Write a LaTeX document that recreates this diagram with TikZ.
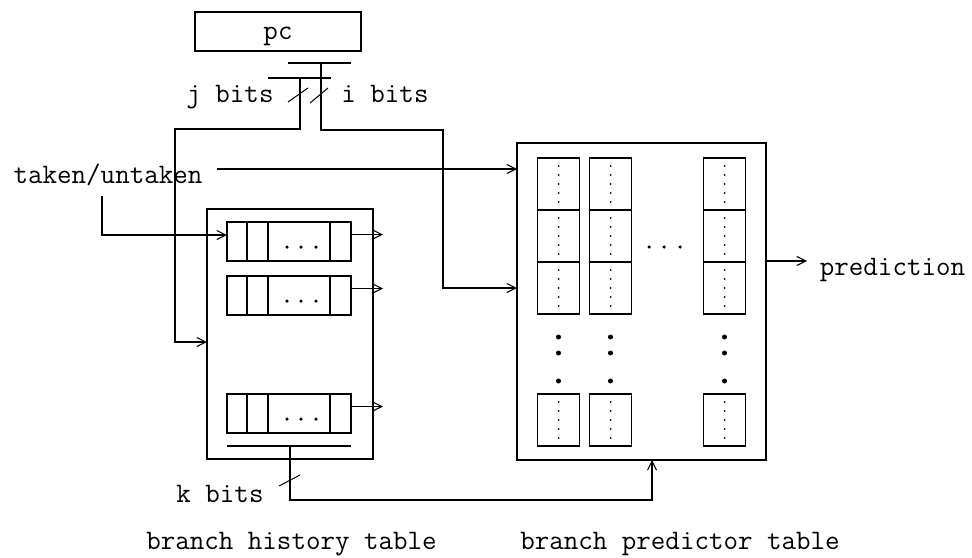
\documentclass[tikz,border=0pt]{standalone}
\usepackage{fontspec}
\usetikzlibrary{arrows.meta}
\begin{document}
\begin{tikzpicture}[x=1pt,y=-1pt,
  line width=1.3pt,
  every node/.style={inner sep=0pt,outer sep=0pt},
  lbl/.style={font=\ttfamily\fontsize{28.2}{32}\selectfont,anchor=base},
  box/.style={draw,rectangle},
  arr/.style={-{Straight Barb[length=9pt,width=9pt,line width=1.1pt]}},
  cell/.style={draw,rectangle,minimum width=42pt,minimum height=52pt},
  dot/.style={fill,circle,minimum size=2pt},
  bigdot/.style={fill,circle,minimum size=5pt}]
\useasboundingbox (0,0) rectangle (972,557);

% program counter
\node[box,minimum width=166pt,minimum height=39pt] (pc) at (278,31.5) {};
\node[lbl] (pctxt) at (278,39) {pc};

% bit-field splits of the pc
\coordinate (ibarL) at (288,63);  \coordinate (ibarR) at (351,63);
\coordinate (jbarL) at (268,78);  \coordinate (jbarR) at (331,78);
\draw (ibarL) -- (ibarR);
\draw (jbarL) -- (jbarR);
\coordinate (itap) at (321,63);  \coordinate (ibend) at (443,130);
\coordinate (jtap) at (300,78);  \coordinate (jbend) at (175,129);
\node[lbl] (jbits) at (230,102) {j bits};
\node[lbl] (ibits) at (385,102) {i bits};

% branch history table
\node[box,minimum width=166pt,minimum height=250pt] (hist) at (290,334) {};
\foreach \n/\y in {1/241.5,2/295.5,3/413.5}{
  \node[box,minimum width=124pt,minimum height=39pt] (r\n) at (289,\y) {};
  \draw ([xshift=20pt]r\n.north west) -- ([xshift=20pt]r\n.south west);
  \draw ([xshift=41pt]r\n.north west) -- ([xshift=41pt]r\n.south west);
  \draw ([xshift=103pt]r\n.north west) -- ([xshift=103pt]r\n.south west);
  \foreach \x in {287,301,316}{\node[dot,minimum size=3.5pt] at (\x,\y+5.5) {};}
  \coordinate (r\n out) at ([yshift=7pt]r\n.east);
  \coordinate (r\n end) at ([yshift=7pt,xshift=32pt]r\n.east);
  \draw[arr] (r\n out) -- (r\n end);
}
\coordinate (kbarL) at (227,446); \coordinate (kbarR) at (351,446);
\draw (kbarL) -- (kbarR);
\coordinate (ktap) at (290,446);
\coordinate (kbend) at (652,500);

% branch predictor table
\node[box,minimum width=249pt,minimum height=317pt] (pred) at (641.5,301.5) {};
\foreach \c/\x in {1/558.5,2/610.5,3/724.5}{
  \foreach \r/\y in {1/184,2/236,3/288,4/420}{
    \node[cell] (c\c r\r) at (\x,\y) {};
    \foreach \d in {-18,-9,0,9,18}{\node[dot] at (\x,\y+\d) {};}
  }
  \foreach \y in {337,353,381}{\node[bigdot] at (\x,\y) {};}
}
\foreach \x in {649,664,680}{\node[dot,minimum size=3.5pt] at (\x,247) {};}

% inputs and outputs
\node[lbl] (taken) at (108,183) {taken/untaken};
\coordinate (takenA) at (217,169);  \coordinate (predin1) at (517,169);
\coordinate (takenB) at (102,196);  \coordinate (row1in) at (227,235);
\coordinate (predin2) at (517,288);
\coordinate (histin) at (207,342);
\coordinate (predbot) at (652,460);
\coordinate (predout) at (766,261); \coordinate (predend) at (807,261);

\draw[arr] (takenA) -- (predin1);
\draw[arr] (takenB) |- (row1in);
\draw[arr] (itap) |- (ibend) |- (predin2);
\draw[arr] (jtap) |- (jbend) |- (histin);
\draw[arr] (ktap) |- (kbend) -- (predbot);
\draw[arr] (predout) -- (predend);
\node[lbl] (pred txt) at (892.5,275) {prediction};

% bus width marks
\coordinate (js1) at (288,102); \coordinate (js2) at (308,88);
\coordinate (is1) at (310,103); \coordinate (is2) at (328,88);
\coordinate (ks1) at (279,486); \coordinate (ks2) at (300,475);
\draw[line width=1pt] (js1) -- (js2);
\draw[line width=1pt] (is1) -- (is2);
\draw[line width=1pt] (ks1) -- (ks2);
\node[lbl] (kbits) at (220,502) {k bits};

% captions
\node[lbl] (histcap) at (291.5,549) {branch history table};
\node[lbl] (predcap) at (680,549) {branch predictor table};
\end{tikzpicture}
\end{document}
